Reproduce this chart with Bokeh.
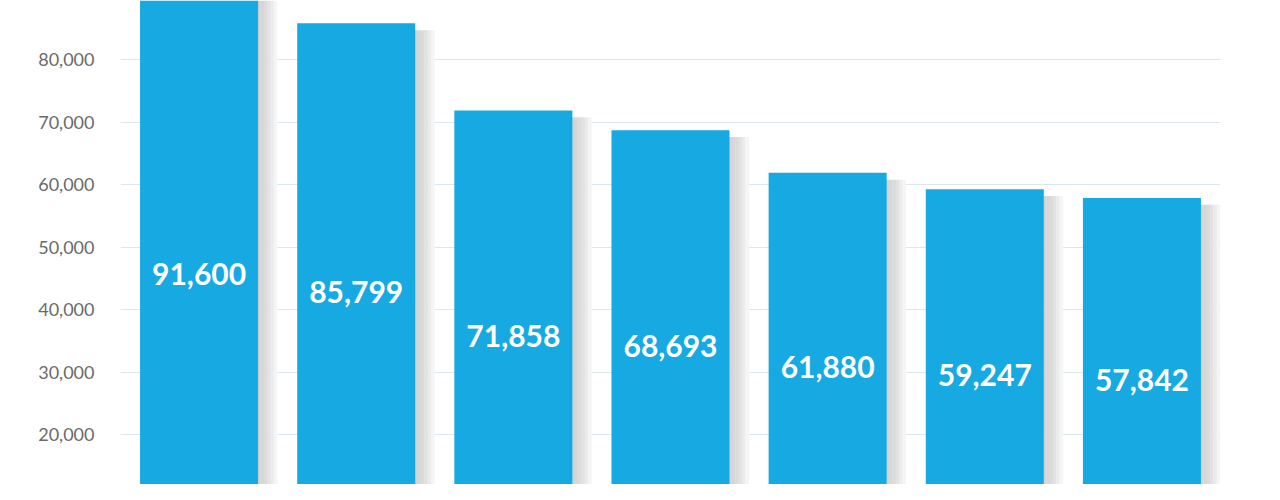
from bokeh.plotting import figure
from bokeh.models import ColumnDataSource, FactorRange, Range1d, NumeralTickFormatter, SingleIntervalTicker
from bokeh.transform import dodge
from bokeh.core.properties import value
from bokeh.embed import file_html
from bokeh.resources import INLINE

# ---- data ----
ranks = ["1", "2", "3", "4", "5", "6", "7"]
values = [91600, 85799, 71858, 68693, 61880, 59247, 57842]
labels = ["91,600", "85,799", "71,858", "68,693", "61,880", "59,247", "57,842"]

BAR_W = 0.751
src = ColumnDataSource(dict(
    rank=ranks,
    val=values,
    half=[v / 2 for v in values],
    shadow_top=[v - 1100 for v in values],
    label=labels,
))

p = figure(width=1264, height=484, output_backend="svg", toolbar_location=None,
           x_range=FactorRange(*ranks, range_padding=0),
           y_range=Range1d(12000, 89440),
           min_border_left=120, min_border_right=44, min_border_top=0, min_border_bottom=0)

p.outline_line_color = None
p.background_fill_color = "white"
p.border_fill_color = "white"

# shadow strips to the right of each bar
shadow_cols = ["#d4d4d4", "#d7d7d7", "#dbdbdb", "#e2e2e2", "#ebebeb", "#f5f5f5"]
strip = 0.021
for i, c in enumerate(shadow_cols):
    off = BAR_W / 2 + strip * (i + 0.5) - 0.004
    p.vbar(x=dodge("rank", off, range=p.x_range), top="shadow_top", bottom=0,
           width=strip + 0.002, source=src, fill_color=c, line_color=None)

p.vbar(x="rank", top="val", bottom=0, width=BAR_W, source=src,
       fill_color="#17a9e1", line_color=None)

p.text(x="rank", y="half", text="label", source=src,
       text_font=value("Lato"), text_font_style="bold", text_font_size="30px",
       text_color="white", text_align="center", text_baseline="middle", y_offset=1)

p.xaxis.visible = False
p.xgrid.grid_line_color = None
p.ygrid.grid_line_color = "#dbe7ee"
p.ygrid.grid_line_width = 1

yax = p.yaxis[0]
yax.ticker = SingleIntervalTicker(interval=10000)
yax.formatter = NumeralTickFormatter(format="0,0")
yax.axis_line_color = None
yax.major_tick_line_color = None
yax.minor_tick_line_color = None
yax.major_tick_out = 0
yax.major_label_standoff = 22
yax.major_label_text_font = "Lato"
yax.major_label_text_font_size = "18px"
yax.major_label_text_color = "#6a6a6a"

open("out.html", "w").write(file_html(p, INLINE))
